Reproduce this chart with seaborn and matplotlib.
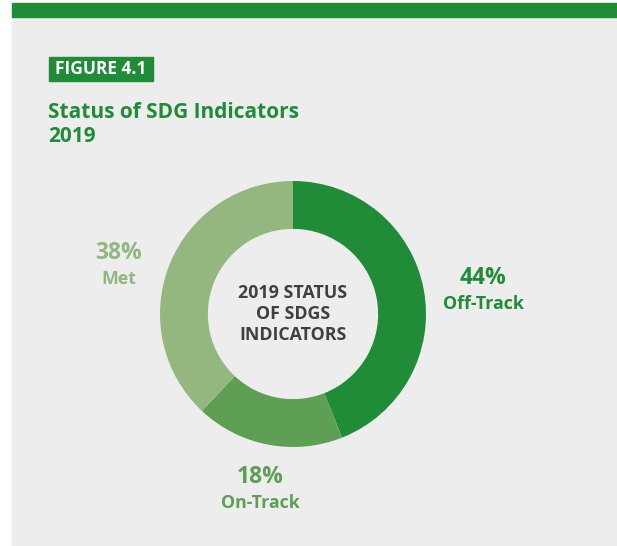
import matplotlib
matplotlib.use("Agg")
import matplotlib.pyplot as plt
import matplotlib.patches as mpatches
import seaborn as sns

# data
categories = ["Off-Track", "On-Track", "Met"]
shares = [44, 18, 38]
slice_colors = ["#218c38", "#5f9e55", "#93b77f"]

sns.set_theme(style="white")
plt.rcParams["font.family"] = ["Open Sans", "DejaVu Sans"]

W, H = 617, 546
fig = plt.figure(figsize=(W / 100, H / 100), dpi=100)
fig.patch.set_facecolor("white")

# background panel and top bar
fig.patches.append(mpatches.Rectangle((12 / W, 0), 1, (H - 17) / H,
                                      transform=fig.transFigure, color="#ededed", zorder=-5))
fig.patches.append(mpatches.Rectangle((12 / W, (H - 17) / H), 1, 14 / H,
                                      transform=fig.transFigure, color="#218c38", zorder=-5))
fig.patches.append(mpatches.Rectangle((49 / W, (H - 81) / H), 104 / W, 24 / H,
                                      transform=fig.transFigure, color="#218c38", zorder=-4))

fig.text(101 / W, (H - 69) / H, "FIGURE 4.1", color="white", fontsize=12.5,
         fontweight="bold", va="center", ha="center")
fig.text(48 / W, (H - 118) / H, "Status of SDG Indicators", color="#218c38",
         fontsize=15, fontweight="bold", va="baseline", ha="left")
fig.text(48 / W, (H - 142) / H, "2019", color="#218c38",
         fontsize=15, fontweight="bold", va="baseline", ha="left")

# donut
cx, cy, r = 293, 314, 133
ax = fig.add_axes([(cx - r) / W, (H - cy - r) / H, 2 * r / W, 2 * r / H])
ax.set_zorder(5)
ax.set_facecolor("none")
ax.pie(shares, colors=slice_colors, startangle=90, counterclock=False,
       radius=1, wedgeprops=dict(width=0.36, linewidth=0))
ax.set_xlim(-1, 1)
ax.set_ylim(-1, 1)
ax.set_aspect("equal")
ax.axis("off")

ax.text(0, 0, "2019 STATUS\nOF SDGS\nINDICATORS", ha="center", va="center",
        fontsize=12.8, fontweight="bold", color="#404040", linespacing=1.25)

# label positions (pixels) for each category
label_pos = [(483, 278), (260, 477), (119, 253)]
label_colors = ["#218c38", "#5f9e55", "#93b77f"]
for cat, val, (px, py), col in zip(categories, shares, label_pos, label_colors):
    fig.text(px / W, (H - py) / H, f"{val}%", ha="center", va="center",
             fontsize=16.5, fontweight="bold", color=col)
    fig.text(px / W, (H - py - 26) / H, cat, ha="center", va="center",
             fontsize=12.8, fontweight="bold", color=col)

fig.savefig("out.png", dpi=100, facecolor=fig.get_facecolor())
